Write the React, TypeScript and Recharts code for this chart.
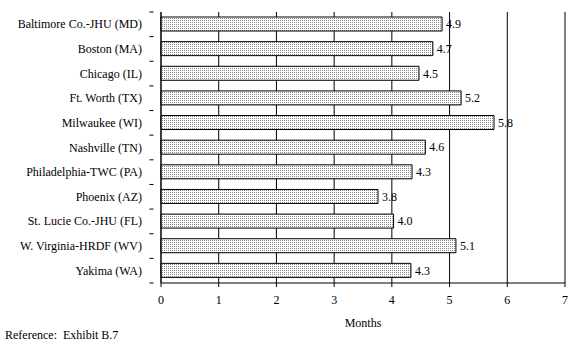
import {
  BarChart,
  Bar,
  XAxis,
  YAxis,
  CartesianGrid,
  LabelList,
} from 'recharts'

const sites = [
  'Baltimore Co.-JHU (MD)',
  'Boston (MA)',
  'Chicago (IL)',
  'Ft. Worth (TX)',
  'Milwaukee (WI)',
  'Nashville (TN)',
  'Philadelphia-TWC (PA)',
  'Phoenix (AZ)',
  'St. Lucie Co.-JHU (FL)',
  'W. Virginia-HRDF (WV)',
  'Yakima (WA)',
]

const months = [4.87, 4.71, 4.47, 5.2, 5.77, 4.58, 4.35, 3.76, 4.03, 5.11, 4.33]

const xTicks = [0, 1, 2, 3, 4, 5, 6, 7]

const data = sites.map((site, i) => ({ site, months: months[i] }))

const FONT = 'Liberation Serif'
const PLOT_TOP = 12
const PLOT_BOTTOM = 283
const band = (PLOT_BOTTOM - PLOT_TOP) / sites.length

function SiteTick(props: any) {
  const { x, y, payload, index } = props
  const ax = x + 0.5
  return (
    <g>
      <line x1={ax - 4} x2={ax} y1={y - band / 2} y2={y - band / 2} stroke="#000" />
      {index === sites.length - 1 && (
        <line x1={ax - 4} x2={ax} y1={y + band / 2} y2={y + band / 2} stroke="#000" />
      )}
      <text
        x={x - 11}
        y={y}
        dy={4}
        textAnchor="end"
        fontSize={12}
        style={{ fontFamily: FONT }}
        fill="#000"
      >
        {payload.value}
      </text>
    </g>
  )
}

export default function App() {
  return (
    <div
      style={{
        position: 'absolute',
        left: 0,
        top: 0,
        width: 576,
        height: 348,
        background: '#fff',
        fontFamily: FONT,
      }}
    >
      <BarChart
        width={576}
        height={348}
        data={data}
        layout="vertical"
        barSize={14}
        margin={{ top: PLOT_TOP, right: 11, bottom: 35, left: 0 }}
        style={{ fontFamily: FONT }}
      >
        <defs>
          <pattern id="dots" width="2" height="2" patternUnits="userSpaceOnUse">
            <rect width="2" height="2" fill="#ffffff" />
            <rect width="1" height="1" fill="#8a8a8a" />
          </pattern>
        </defs>
        <CartesianGrid horizontal={false} stroke="#000" strokeDasharray="" />
        <XAxis
          type="number"
          domain={[0, 7]}
          ticks={xTicks}
          interval={0}
          height={30}
          stroke="#000"
          tickSize={4}
          tickMargin={8}
          tick={{ fill: '#000', fontSize: 12, fontFamily: FONT }}
          label={{
            value: 'Months',
            position: 'insideBottom',
            offset: -14,
            fill: '#000',
            fontSize: 12,
            fontFamily: FONT,
          }}
        />
        <XAxis
          xAxisId="top"
          orientation="top"
          type="number"
          domain={[0, 7]}
          height={0}
          tick={false}
          tickLine={false}
          stroke="#000"
        />
        <YAxis
          type="category"
          dataKey="site"
          width={161}
          stroke="#000"
          tickLine={false}
          interval={0}
          tick={<SiteTick />}
        />
        <Bar
          dataKey="months"
          fill="url(#dots)"
          stroke="#000"
          strokeWidth={1}
          isAnimationActive={false}
        >
          <LabelList
            dataKey="months"
            position="right"
            offset={4}
            formatter={(v: any) => Number(v).toFixed(1)}
            style={{ fill: '#000', fontSize: 12, fontFamily: FONT }}
          />
        </Bar>
      </BarChart>
      <div
        style={{
          position: 'absolute',
          left: 5,
          top: 328,
          fontSize: 12,
          color: '#000',
          whiteSpace: 'pre',
        }}
      >
        {'Reference:  Exhibit B.7'}
      </div>
    </div>
  )
}
